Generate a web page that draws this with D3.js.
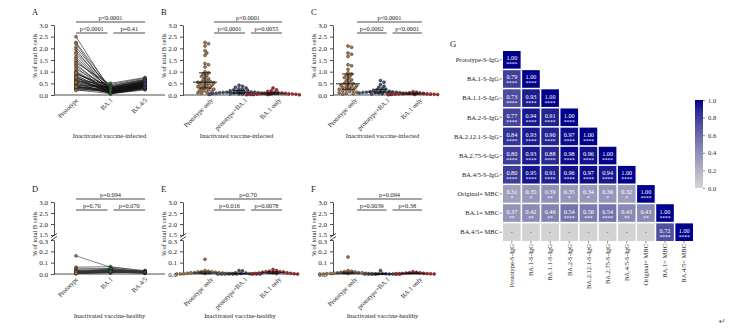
<!DOCTYPE html>
<html>
<head>
<meta charset="utf-8">
<script src="https://cdn.jsdelivr.net/npm/d3@7"></script>
<style>
  body { margin: 0; background: #fff; }
  svg text { font-family: "Liberation Serif", "Times New Roman", serif; fill: #222; }
</style>
</head>
<body>
<svg id="fig" width="730" height="328"></svg>
<script>
'use strict';

// ---- data ----
const catsPaired = ['Prototype', 'BA.1', 'BA.4/5'];
const catsGroup = ['Prototype only', 'prototype+BA.1', 'BA.1 only'];

// A: inactivated vaccine-infected, paired
const protoA = [2.50, 2.25, 2.20, 2.05, 1.95, 1.82, 1.75, 1.62, 1.55, 1.45, 1.38, 1.32, 1.25, 1.18, 1.10,
  1.02, 0.98, 0.92, 0.88, 0.84, 0.80, 0.76, 0.72, 0.68, 0.65, 0.62, 0.58, 0.55, 0.52, 0.48, 0.45, 0.42,
  0.40, 0.37, 0.35, 0.32, 0.30, 0.28, 0.25, 0.22, 0.20, 0.35, 0.55, 0.75, 0.95];
const ba1A = [0.18, 0.30, 0.12, 0.25, 0.08, 0.35, 0.15, 0.22, 0.10, 0.28, 0.45, 0.14, 0.20, 0.06, 0.32,
  0.17, 0.09, 0.26, 0.40, 0.13, 0.21, 0.07, 0.30, 0.16, 0.11, 0.24, 0.50, 0.19, 0.05, 0.27, 0.12, 0.34,
  0.08, 0.22, 0.15, 0.38, 0.10, 0.29, 0.18, 0.06, 0.23, 0.14, 0.31, 0.09, 0.20];
const ba45A = [0.45, 0.60, 0.38, 0.52, 0.30, 0.65, 0.42, 0.55, 0.33, 0.48, 0.72, 0.40, 0.50, 0.28, 0.58,
  0.44, 0.35, 0.53, 0.68, 0.39, 0.47, 0.25, 0.62, 0.43, 0.36, 0.51, 0.75, 0.46, 0.22, 0.54, 0.37, 0.60,
  0.31, 0.49, 0.41, 0.66, 0.34, 0.56, 0.45, 0.27, 0.50, 0.40, 0.59, 0.32, 0.47];

// B: inactivated vaccine-infected, groups
const protoB = [2.25, 2.20, 2.10, 1.90, 1.80, 1.70, 1.35, 1.30, 1.20, 1.00, 0.95, 0.90, 0.85, 0.80, 0.75,
  0.70, 0.65, 0.60, 0.58, 0.55, 0.55, 0.52, 0.50, 0.48, 0.45, 0.42, 0.40, 0.38, 0.35, 0.32, 0.30, 0.28,
  0.25, 0.22, 0.20, 0.18, 0.15, 0.12, 0.10, 0.08, 0.05];
const pbB = [0.42, 0.38, 0.33, 0.30, 0.27, 0.25, 0.22, 0.20, 0.18, 0.17, 0.15, 0.14, 0.13, 0.12, 0.12,
  0.11, 0.10, 0.10, 0.09, 0.08, 0.08, 0.07, 0.06, 0.06, 0.05, 0.05, 0.04, 0.03, 0.02, 0.02];
const ba1B = [0.30, 0.22, 0.18, 0.15, 0.12, 0.10, 0.09, 0.08, 0.07, 0.06, 0.05, 0.05, 0.04, 0.04, 0.03,
  0.03, 0.02, 0.02, 0.01, 0.01];

// C: inactivated vaccine-infected, groups
const protoC = [2.10, 2.05, 1.80, 1.75, 1.65, 1.30, 1.25, 1.10, 0.95, 0.90, 0.85, 0.80, 0.75, 0.70, 0.65,
  0.60, 0.55, 0.50, 0.48, 0.45, 0.42, 0.40, 0.38, 0.35, 0.32, 0.30, 0.28, 0.25, 0.22, 0.20, 0.18, 0.15,
  0.12, 0.10, 0.08, 0.06, 0.04];
const pbC = [0.62, 0.55, 0.45, 0.38, 0.33, 0.28, 0.25, 0.22, 0.20, 0.18, 0.16, 0.15, 0.14, 0.13, 0.12,
  0.12, 0.11, 0.10, 0.10, 0.09, 0.08, 0.07, 0.06, 0.05, 0.04, 0.03];
const ba1C = [0.14, 0.12, 0.10, 0.09, 0.08, 0.07, 0.06, 0.05, 0.05, 0.04, 0.04, 0.03, 0.03, 0.02, 0.02, 0.01];

// D: inactivated vaccine-healthy, paired
const protoD = [0.16, 0.06, 0.05, 0.04, 0.03, 0.03, 0.025, 0.02, 0.02, 0.018, 0.015, 0.012, 0.01, 0.01,
  0.009, 0.008, 0.006, 0.005, 0.004, 0.003, 0.02, 0.011, 0.014, 0.022, 0.007];
const ba1D = [0.06, 0.065, 0.05, 0.045, 0.04, 0.035, 0.03, 0.028, 0.025, 0.022, 0.02, 0.018, 0.015, 0.03,
  0.012, 0.04, 0.02, 0.025, 0.01, 0.015, 0.035, 0.05, 0.028, 0.018, 0.022];
const ba45D = [0.03, 0.025, 0.02, 0.018, 0.015, 0.028, 0.012, 0.01, 0.02, 0.015, 0.022, 0.008, 0.018, 0.012,
  0.025, 0.01, 0.005, 0.02, 0.015, 0.01, 0.012, 0.02, 0.008, 0.015, 0.018];

// E: inactivated vaccine-healthy, groups
const protoE = [0.13, 0.03, 0.025, 0.02, 0.02, 0.018, 0.015, 0.012, 0.01, 0.01, 0.008, 0.006, 0.005, 0.004,
  0.003, 0.002, 0.001, 0.0, 0.0, 0.0];
const pbE = [0.03, 0.028, 0.01, 0.008, 0.005, 0.004, 0.003, 0.002, 0.002, 0.001, 0.0, 0.0, 0.0, 0.0];
const ba1E = [0.04, 0.03, 0.025, 0.02, 0.02, 0.018, 0.015, 0.012, 0.01, 0.008, 0.006, 0.005, 0.004, 0.002,
  0.001, 0.0];

// F: inactivated vaccine-healthy, groups
const protoF = [0.15, 0.03, 0.025, 0.02, 0.018, 0.015, 0.012, 0.01, 0.01, 0.008, 0.006, 0.005, 0.004, 0.003,
  0.002, 0.001, 0.0, 0.0, 0.0];
const pbF = [0.03, 0.005, 0.003, 0.002, 0.001, 0.0, 0.0, 0.0, 0.0, 0.0, 0.0, 0.0];
const ba1F = [0.02, 0.015, 0.012, 0.01, 0.008, 0.006, 0.005, 0.004, 0.003, 0.002, 0.001, 0.0];

// p values: [top, lower-left, lower-right]
const pA = ['p<0.0001', 'p<0.0001', 'p=0.41'];
const pB = ['p<0.0001', 'p<0.0001', 'p=0.0055'];
const pC = ['p<0.0001', 'p=0.0002', 'p<0.0001'];
const pD = ['p=0.094', 'p=0.70', 'p=0.070'];
const pE = ['p=0.70', 'p=0.016', 'p=0.0078'];
const pF = ['p=0.094', 'p=0.0039', 'p=0.38'];

const groupInfected = 'Inactivated vaccine-infected';
const groupHealthy = 'Inactivated vaccine-healthy';

// G: correlation matrix (lower triangle), null = not available
const corrLabels = ['Prototype-S-IgG', 'BA.1-S-IgG', 'BA.1.1-S-IgG', 'BA.2-S-IgG', 'BA.2.12.1-S-IgG',
  'BA.2.75-S-IgG', 'BA.4/5-S-IgG', 'Original= MBC', 'BA.1= MBC', 'BA.4/5= MBC'];
const corrValues = [
  [1.00],
  [0.79, 1.00],
  [0.73, 0.93, 1.00],
  [0.77, 0.94, 0.91, 1.00],
  [0.84, 0.93, 0.90, 0.97, 1.00],
  [0.80, 0.93, 0.88, 0.98, 0.96, 1.00],
  [0.80, 0.95, 0.91, 0.96, 0.97, 0.94, 1.00],
  [0.31, 0.35, 0.39, 0.35, 0.34, 0.36, 0.32, 1.00],
  [0.37, 0.42, 0.46, 0.54, 0.50, 0.54, 0.43, 0.43, 1.00],
  [null, null, null, null, null, null, null, null, 0.72, 1.00]
];
const corrStars = [
  ['****'],
  ['****', '****'],
  ['****', '****', '****'],
  ['****', '****', '****', '****'],
  ['****', '****', '****', '****', '****'],
  ['****', '****', '****', '****', '****', '****'],
  ['****', '****', '****', '****', '****', '****', '****'],
  ['*', '*', '**', '*', '*', '*', '*', '****'],
  ['**', '**', '**', '****', '***', '****', '**', '**', '****'],
  ['', '', '', '', '', '', '', '', '****', '****']
];
const colorTicks = [0, 0.2, 0.4, 0.6, 0.8, 1.0];

// ---- drawing ----
const svg = d3.select('#fig');
const fmt1 = d3.format('.1f');

const colProto = '#b07a45', colPB = '#44587a', colBA1 = '#c81e1e';
const colGreen = '#2f6b35', colPurple = '#4b3a72';

const yTop = d3.scaleLinear().domain([0, 3]).range([95, 25]);
const yLo = d3.scaleLinear().domain([0, 0.3]).range([274, 240]);
const yHi = d3.scaleLinear().domain([1.5, 3]).range([235, 202]);
const yBroken = v => (v <= 0.3 ? yLo(v) : yHi(v));

function styleAxis(g) {
  g.attr('font-family', null).attr('font-size', 7);
  g.selectAll('path, line').attr('stroke', '#222').attr('stroke-width', 0.8);
}

function drawFrame(p) {
  const g = svg.append('g');
  const top = p.broken ? 202 : 25;
  const base = p.broken ? 274 : 95;

  g.append('text').attr('x', p.ax - 22).attr('y', top - 10)
    .attr('font-size', 8.5).text(p.letter);

  if (p.broken) {
    g.append('g').attr('transform', `translate(${p.ax},0)`)
      .call(d3.axisLeft(yLo).tickValues([0, 0.1, 0.2, 0.3]).tickFormat(fmt1).tickSize(3).tickSizeOuter(0))
      .call(styleAxis)
      .call(a => a.selectAll('.tick text').filter(d => d === 0.3).attr('dy', '0.5em'));
    g.append('g').attr('transform', `translate(${p.ax},0)`)
      .call(d3.axisLeft(yHi).tickValues([1.5, 2, 2.5, 3]).tickFormat(fmt1).tickSize(3).tickSizeOuter(0))
      .call(styleAxis)
      .call(a => a.selectAll('.tick text').filter(d => d === 1.5).attr('dy', '0.15em'));
    [235.5, 238.5].forEach(yy => {
      g.append('line').attr('x1', p.ax - 3).attr('x2', p.ax + 3)
        .attr('y1', yy + 2).attr('y2', yy - 2).attr('stroke', '#222').attr('stroke-width', 0.8);
    });
  } else {
    g.append('g').attr('transform', `translate(${p.ax},0)`)
      .call(d3.axisLeft(yTop).tickValues(d3.range(0, 3.01, 0.5)).tickFormat(fmt1).tickSize(3).tickSizeOuter(0))
      .call(styleAxis);
  }

  g.append('text')
    .attr('transform', `translate(${p.ax - 17},${(top + base) / 2 - 4}) rotate(-90)`)
    .attr('text-anchor', 'middle').attr('font-size', 6.5).text('% of total B cells');

  g.append('line').attr('x1', p.ax).attr('x2', p.axEnd).attr('y1', base).attr('y2', base)
    .attr('stroke', '#222').attr('stroke-width', 0.8);

  p.x.domain().forEach(c => {
    g.append('text')
      .attr('transform', `translate(${p.x(c) + p.dxLabel},${base + 4}) rotate(-45)`)
      .attr('text-anchor', 'end').attr('dy', '0.35em').attr('font-size', 6.5).text(c);
  });

  g.append('text').attr('x', (p.ax + p.axEnd) / 2).attr('y', p.broken ? 318 : 138)
    .attr('text-anchor', 'middle').attr('font-size', 6.5).text(p.group);

  // significance brackets
  const cs = p.x.domain().map(c => p.x(c) + p.dxBr);
  const yT = top - 3, yL = top + 8;
  const brackets = [
    [cs[0], cs[2], yT, p.pv[0]],
    [cs[0], cs[1] - 3, yL, p.pv[1]],
    [cs[1] + 3, cs[2], yL, p.pv[2]]
  ];
  brackets.forEach(([x1, x2, yy, t]) => {
    g.append('line').attr('x1', x1).attr('x2', x2).attr('y1', yy).attr('y2', yy)
      .attr('stroke', '#222').attr('stroke-width', 0.8);
    g.append('text').attr('x', (x1 + x2) / 2).attr('y', yy - 2)
      .attr('text-anchor', 'middle').attr('font-size', 6.3).text(t);
  });
  return g;
}

function dot(g, x, y, fill) {
  g.append('circle').attr('cx', x).attr('cy', y).attr('r', 1.5)
    .attr('fill', fill).attr('stroke', '#1a1a1a').attr('stroke-width', 0.45);
}

function drawPaired(p, series, colors, lineColor) {
  const g = drawFrame(p);
  const y = p.broken ? yBroken : yTop;
  const cats = p.x.domain();
  const line = d3.line().x(d => d[0]).y(d => d[1]);
  series[0].forEach((_, i) => {
    const pts = cats.map((c, k) => [p.x(c), y(series[k][i])]);
    g.append('path').attr('d', line(pts)).attr('fill', 'none')
      .attr('stroke', lineColor).attr('stroke-width', 0.6);
  });
  cats.forEach((c, k) => {
    series[k].forEach(v => dot(g, p.x(c), y(v), colors[k]));
  });
}

// simple deterministic beeswarm
function swarm(vals, y, cx, r) {
  const placed = [];
  vals.map(v => ({ v, y: y(v) })).sort((a, b) => a.y - b.y).forEach(pt => {
    let x = cx;
    for (let k = 0; k < 80; k++) {
      const xx = cx + ((k % 2) ? 1 : -1) * Math.ceil(k / 2) * r * 1.1;
      if (placed.every(q => (q.x - xx) ** 2 + (q.y - pt.y) ** 2 >= (r * 1.8) ** 2)) { x = xx; break; }
    }
    pt.x = x;
    placed.push(pt);
  });
  return placed;
}

function drawGroups(p, series, colors) {
  const g = drawFrame(p);
  const y = p.broken ? yBroken : yTop;
  p.x.domain().forEach((c, k) => {
    const cx = p.x(c);
    swarm(series[k], y, cx, 1.6).forEach(pt => dot(g, pt.x, pt.y, colors[k]));
    const s = series[k].slice().sort(d3.ascending);
    const med = d3.quantile(s, 0.5), q1 = d3.quantile(s, 0.25), q3 = d3.quantile(s, 0.75);
    const seg = (x1, x2, y1, y2) => g.append('line').attr('x1', x1).attr('x2', x2)
      .attr('y1', y1).attr('y2', y2).attr('stroke', '#111').attr('stroke-width', 0.9);
    seg(cx - 12, cx + 12, y(med), y(med));
    seg(cx, cx, y(q1), y(q3));
    seg(cx - 6, cx + 6, y(q1), y(q1));
    seg(cx - 6, cx + 6, y(q3), y(q3));
  });
}

const xA = d3.scalePoint().domain(catsPaired).range([76, 145]);
const xB = d3.scalePoint().domain(catsGroup).range([205, 273]);
const xC = d3.scalePoint().domain(catsGroup).range([348, 413]);

drawPaired({ letter: 'A', ax: 54, axEnd: 165, x: xA, dxLabel: 1, dxBr: 0, pv: pA, group: groupInfected },
  [protoA, ba1A, ba45A], [colProto, colGreen, colPurple], '#111');
drawGroups({ letter: 'B', ax: 183, axEnd: 290, x: xB, dxLabel: 7, dxBr: 9, pv: pB, group: groupInfected },
  [protoB, pbB, ba1B], [colProto, colPB, colBA1]);
drawGroups({ letter: 'C', ax: 333, axEnd: 432, x: xC, dxLabel: 8, dxBr: 9, pv: pC, group: groupInfected },
  [protoC, pbC, ba1C], [colProto, colPB, colBA1]);

drawPaired({ letter: 'D', ax: 54, axEnd: 165, x: xA, dxLabel: 1, dxBr: 0, pv: pD, group: groupHealthy, broken: true },
  [protoD, ba1D, ba45D], [colProto, colGreen, colPurple], '#333');
drawGroups({ letter: 'E', ax: 183, axEnd: 297, x: xB, dxLabel: 7, dxBr: 9, pv: pE, group: groupHealthy, broken: true },
  [protoE, pbE, ba1E], [colProto, colPB, colBA1]);
drawGroups({ letter: 'F', ax: 333, axEnd: 432, x: xC, dxLabel: 8, dxBr: 9, pv: pF, group: groupHealthy, broken: true },
  [protoF, pbF, ba1F], [colProto, colPB, colBA1]);

// ---- G: correlation heatmap ----
const gG = svg.append('g');
const xG = d3.scaleBand().domain(corrLabels).range([503, 693]).paddingInner(0.08);
const yG = d3.scaleBand().domain(corrLabels).range([51, 241]).paddingInner(0.08);
const color = d3.scaleLinear().domain([0, 1]).range(['#d3d3d3', '#00008b'])
  .interpolate(d3.interpolateRgb.gamma(1.3));

gG.append('text').attr('x', 450).attr('y', 47).attr('font-size', 8.5).text('G');

corrValues.forEach((row, r) => {
  row.forEach((v, c) => {
    const x0 = xG(corrLabels[c]), y0 = yG(corrLabels[r]);
    const bw = xG.bandwidth(), bh = yG.bandwidth();
    gG.append('rect').attr('x', x0).attr('y', y0).attr('width', bw).attr('height', bh)
      .attr('fill', v === null ? '#d3d3d3' : color(v));
    if (v === null) {
      gG.append('text').attr('x', x0 + bw / 2).attr('y', y0 + bh / 2 + 2)
        .attr('text-anchor', 'middle').attr('font-size', 6).style('fill', '#555').text('-');
    } else {
      gG.append('text').attr('x', x0 + bw / 2).attr('y', y0 + bh / 2 + 0.5)
        .attr('text-anchor', 'middle').attr('font-size', 6.2).style('fill', '#fff').text(v.toFixed(2));
      gG.append('text').attr('x', x0 + bw / 2).attr('y', y0 + bh / 2 + 6.5)
        .attr('text-anchor', 'middle').attr('font-size', 5.5).style('fill', '#fff').text(corrStars[r][c]);
    }
  });
});

corrLabels.forEach(lbl => {
  const yc = yG(lbl) + yG.bandwidth() / 2;
  gG.append('text').attr('x', 499).attr('y', yc).attr('dy', '0.35em')
    .attr('text-anchor', 'end').attr('font-size', 6.5).text(lbl);
  gG.append('line').attr('x1', 499.5).attr('x2', 502).attr('y1', yc).attr('y2', yc)
    .attr('stroke', '#444').attr('stroke-width', 0.6);
  const xc = xG(lbl) + xG.bandwidth() / 2;
  gG.append('line').attr('x1', xc).attr('x2', xc).attr('y1', 241).attr('y2', 243.5)
    .attr('stroke', '#444').attr('stroke-width', 0.6);
  gG.append('text').attr('transform', `translate(${xc},244) rotate(-90)`)
    .attr('text-anchor', 'end').attr('dy', '0.35em').attr('font-size', 6.5).text(lbl);
});

// colour bar
const yC = d3.scaleLinear().domain([0, 1]).range([188, 100]);
const grad = svg.append('defs').append('linearGradient').attr('id', 'cbar')
  .attr('x1', 0).attr('y1', 1).attr('x2', 0).attr('y2', 0);
d3.range(0, 1.01, 0.1).forEach(t => {
  grad.append('stop').attr('offset', t).attr('stop-color', color(t));
});
gG.append('rect').attr('x', 695).attr('y', 100).attr('width', 8).attr('height', 88).attr('fill', 'url(#cbar)');
gG.append('g').attr('transform', 'translate(703,0)')
  .call(d3.axisRight(yC).tickValues(colorTicks).tickFormat(fmt1).tickSize(2).tickSizeOuter(0))
  .call(g => {
    g.attr('font-family', null).attr('font-size', 6.5);
    g.select('.domain').remove();
    g.selectAll('line').attr('stroke', '#444').attr('stroke-width', 0.6);
  });

svg.append('text').attr('x', 719).attr('y', 324).attr('font-size', 8)
  .style('font-family', 'DejaVu Sans').style('fill', '#555').text('\u21b5');
</script>
</body>
</html>
